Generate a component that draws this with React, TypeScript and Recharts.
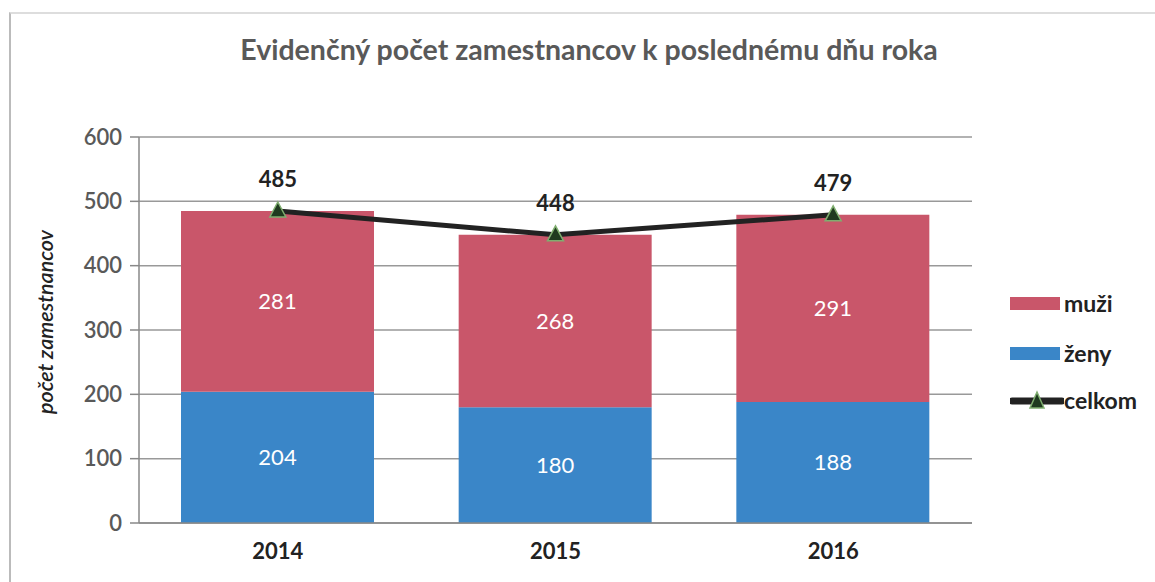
import React from "react";
import {
  ComposedChart,
  Bar,
  Line,
  XAxis,
  YAxis,
  CartesianGrid,
  LabelList,
} from "recharts";

const years = ["2014", "2015", "2016"];
const zeny = [204, 180, 188];
const muzi = [281, 268, 291];
const celkom = [485, 448, 479];

const data = years.map((y, i) => ({
  year: y,
  zeny: zeny[i],
  muzi: muzi[i],
  celkom: celkom[i],
}));

const RED = "#C9566A";
const BLUE = "#3A86C8";
const FONT = "Lato, 'Open Sans', sans-serif";

// green-edged triangle marker used for the total line
const Triangle = (props: any) => {
  const { cx, cy } = props;
  if (cx == null || cy == null) return null;
  return (
    <path
      d={`M${cx},${cy - 9} L${cx + 8},${cy + 6} L${cx - 8},${cy + 6} Z`}
      fill="#1f3a1f"
      stroke="#7fae6f"
      strokeWidth={1.5}
    />
  );
};

const TotalLabel = (props: any) => {
  const { x, y, value } = props;
  return (
    <text
      x={x}
      y={y - 24}
      textAnchor="middle"
      fontFamily={FONT}
      fontWeight={700}
      fontSize={22}
      fill="#222"
    >
      {value}
    </text>
  );
};

const LegendBox = () => (
  <div
    style={{
      position: "absolute",
      left: 1010,
      top: 278,
      fontFamily: FONT,
      fontSize: 23,
      fontWeight: 700,
      color: "#222",
    }}
  >
    <div style={{ display: "flex", alignItems: "center", height: 50 }}>
      <span style={{ width: 50, height: 13, background: RED, marginRight: 4 }} />
      muži
    </div>
    <div style={{ display: "flex", alignItems: "center", height: 50 }}>
      <span style={{ width: 50, height: 13, background: BLUE, marginRight: 4 }} />
      ženy
    </div>
    <div style={{ display: "flex", alignItems: "center", height: 44 }}>
      <svg width={54} height={20}>
        <line x1={2} y1={11} x2={52} y2={11} stroke="#222" strokeWidth={7} strokeLinecap="round" />
        <path d="M27,2 L34,18 L20,18 Z" fill="#1f3a1f" stroke="#7fae6f" strokeWidth={1.5} />
      </svg>
      celkom
    </div>
  </div>
);

export default function App() {
  return (
    <div
      style={{
        position: "absolute",
        left: 0,
        top: 0,
        width: 1155,
        height: 582,
        background: "#fff",
      }}
    >
      <div
        style={{
          position: "absolute",
          left: 9,
          top: 12,
          right: 0,
          bottom: 0,
          borderLeft: "2px solid #bbb",
          borderTop: "2px solid #ddd",
        }}
      />
      <div
        style={{
          position: "absolute",
          left: 0,
          width: 1178,
          top: 32,
          textAlign: "center",
          fontFamily: FONT,
          fontWeight: 700,
          fontSize: 28.5,
          color: "#595959",
        }}
      >
        Evidenčný počet zamestnancov k poslednému dňu roka
      </div>
      <div
        style={{
          position: "absolute",
          left: 45,
          top: 322,
          transform: "translate(-50%, -50%) rotate(-90deg)",
          fontFamily: FONT,
          fontStyle: "italic",
          fontWeight: 600,
          fontSize: 21.5,
          color: "#222",
          whiteSpace: "nowrap",
        }}
      >
        počet zamestnancov
      </div>
      <LegendBox />
      <ComposedChart
        width={1155}
        height={582}
        data={data}
        margin={{ top: 137, right: 183, left: 59, bottom: 19 }}
        barSize={193}
      >
        <CartesianGrid vertical={false} stroke="#999" strokeWidth={1.5} />
        <XAxis
          dataKey="year"
          height={40}
          axisLine={{ stroke: "#888", strokeWidth: 1.5 }}
          tickLine={false}
          tick={{ fontFamily: FONT, fontWeight: 700, fontSize: 22, fill: "#222" }}
          tickMargin={14}
        />
        <YAxis
          width={80}
          domain={[0, 600]}
          ticks={[0, 100, 200, 300, 400, 500, 600]}
          axisLine={{ stroke: "#888", strokeWidth: 1.5 }}
          tickLine={{ stroke: "#888", strokeWidth: 1.5 }}
          tickSize={9}
          tickMargin={8}
          tick={{ fontFamily: FONT, fontSize: 22, fill: "#595959", fontWeight: 600 }}
        />
        <Bar dataKey="zeny" stackId="a" fill={BLUE} isAnimationActive={false}>
          <LabelList
            dataKey="zeny"
            position="center"
            fill="#fff"
            fontFamily={FONT}
            fontSize={22}
          />
        </Bar>
        <Bar dataKey="muzi" stackId="a" fill={RED} isAnimationActive={false}>
          <LabelList
            dataKey="muzi"
            position="center"
            fill="#fff"
            fontFamily={FONT}
            fontSize={22}
          />
        </Bar>
        <Line
          dataKey="celkom"
          stroke="#222"
          strokeWidth={5}
          dot={<Triangle />}
          activeDot={false}
          isAnimationActive={false}
        >
          <LabelList dataKey="celkom" content={<TotalLabel />} />
        </Line>
      </ComposedChart>
    </div>
  );
}
